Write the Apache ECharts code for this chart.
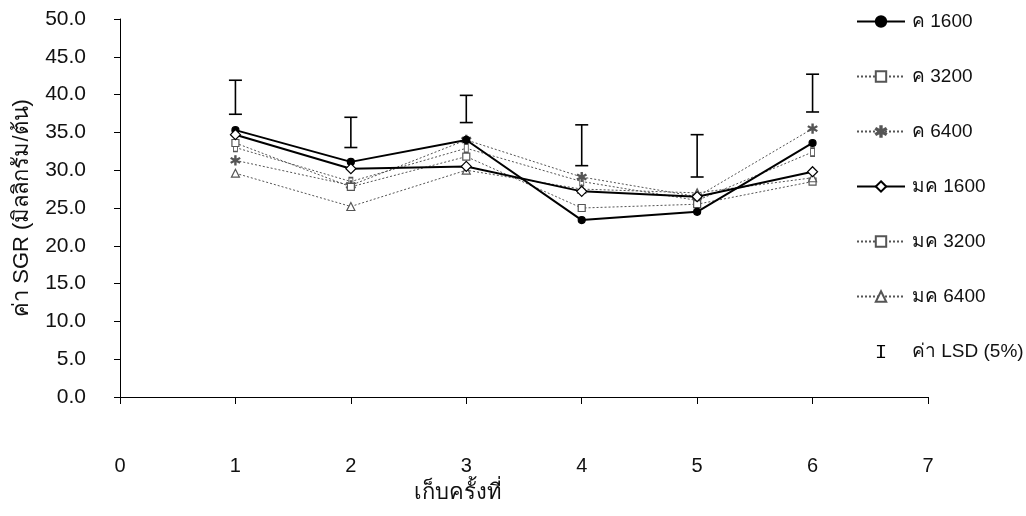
<!DOCTYPE html>
<html>
<head>
<meta charset="utf-8">
<script src="https://cdn.jsdelivr.net/npm/echarts@6/dist/echarts.min.js"></script>
<style>
  html, body { margin: 0; padding: 0; background: #fff; }
  #chart { width: 1026px; height: 516px; }
</style>
</head>
<body>
<div id="chart"></div>
<script>
// Harvest rounds (x values) and SGR readings per treatment
const rounds = [1, 2, 3, 4, 5, 6];
const seriesNames = ['ค 1600', 'ค 3200', 'ค 6400', 'มค 1600', 'มค 3200', 'มค 6400'];
const k1600  = [35.3, 31.1, 34.0, 23.4, 24.5, 33.6];
const k3200  = [33.0, 28.5, 32.9, 28.5, 26.0, 32.4];
const k6400  = [31.3, 28.0, 34.0, 29.1, 26.5, 35.5];
const mk1600 = [34.7, 30.2, 30.5, 27.2, 26.5, 29.8];
const mk3200 = [33.6, 27.8, 31.8, 25.0, 25.5, 28.5];
const mk6400 = [29.6, 25.2, 30.0, 27.5, 27.0, 29.0];
// LSD (5%) bars: low and high end per round
const lsdName = 'ค่า LSD (5%)';
const lsdLow  = [37.4, 33.0, 36.3, 30.6, 29.1, 37.7];
const lsdHigh = [41.9, 37.0, 39.9, 36.0, 34.7, 42.7];
const yTicks = { min: 0, max: 50, interval: 5 };
const xTicks = { min: 0, max: 7, interval: 1 };
const xAxisTitle = 'เก็บครั้งที่';
const yAxisTitle = 'ค่า SGR (มิลลิกรัม/ต้น)';

const FONT = "'Liberation Sans', Arial, 'Noto Sans', sans-serif";
const NARROW = "'Liberation Sans Narrow', 'Arial Narrow', 'Liberation Sans', sans-serif";
const pairs = vals => rounds.map((r, i) => [r, vals[i]]);

const solid = { color: '#000', width: 2, type: 'solid' };
const dotted = { color: '#555', width: 1, type: [2, 2] };
const asterisk = 'path://M-0.6,-5H0.6V-1L4,-3L4.6,-2L1.2,0L4.6,2L4,3L0.6,1V5H-0.6V1L-4,3L-4.6,2L-1.2,0L-4.6,-2L-4,-3L-0.6,-1Z';
const ibeam = 'path://M0,0H10V1.6H6.1V14.4H10V16H0V14.4H3.9V1.6H0Z';

function lineSeries(name, vals, lineStyle, symbol, size, fill, border) {
  return {
    name, type: 'line', data: pairs(vals),
    symbol, symbolSize: size, showSymbol: true,
    lineStyle,
    itemStyle: { color: fill, borderColor: border, borderWidth: 1.2 },
    emphasis: { disabled: true },
    z: lineStyle.width > 1 ? 4 : 3
  };
}

const series = [
  lineSeries(seriesNames[0], k1600, solid, 'circle', 7, '#000', '#000'),
  lineSeries(seriesNames[1], k3200, dotted, 'rect', [4, 8], '#fff', '#555'),
  lineSeries(seriesNames[2], k6400, dotted, asterisk, 9, '#555', '#555'),
  lineSeries(seriesNames[3], mk1600, solid, 'diamond', 10, '#fff', '#000'),
  lineSeries(seriesNames[4], mk3200, dotted, 'rect', 7, '#fff', '#555'),
  lineSeries(seriesNames[5], mk6400, dotted, 'triangle', 8, '#fff', '#555'),
  {
    name: lsdName, type: 'custom',
    data: rounds.map((r, i) => [r, lsdLow[i], lsdHigh[i]]),
    encode: { x: 0, y: [1, 2] },
    itemStyle: { color: '#000' },
    z: 5,
    renderItem: function (params, api) {
      const x = api.value(0);
      const lo = api.coord([x, api.value(1)]);
      const hi = api.coord([x, api.value(2)]);
      const w = 6.5;
      const st = { stroke: '#000', lineWidth: 1.6 };
      return {
        type: 'group',
        children: [
          { type: 'line', shape: { x1: lo[0], y1: lo[1], x2: hi[0], y2: hi[1] }, style: st },
          { type: 'line', shape: { x1: lo[0] - w, y1: lo[1], x2: lo[0] + w, y2: lo[1] }, style: st },
          { type: 'line', shape: { x1: hi[0] - w, y1: hi[1], x2: hi[0] + w, y2: hi[1] }, style: st }
        ]
      };
    }
  }
];

const chart = echarts.init(document.getElementById('chart'), null, { renderer: 'canvas' });
chart.setOption({
  animation: false,
  backgroundColor: '#fff',
  grid: { left: 120, right: 98, top: 19, bottom: 119, containLabel: false },
  legend: {
    orient: 'vertical',
    left: 851, top: 7,
    itemWidth: 48, itemHeight: 13, itemGap: 36,
    textStyle: { fontFamily: FONT, fontSize: 19, color: '#111', padding: [0, 0, 0, 2] },
    data: seriesNames.map(n => ({ name: n })).concat([{ name: lsdName, icon: ibeam, itemStyle: { color: '#000' } }]),
    selectedMode: false
  },
  xAxis: {
    type: 'value', min: xTicks.min, max: xTicks.max, interval: xTicks.interval,
    splitLine: { show: false },
    axisLine: { show: true, onZero: false, lineStyle: { color: '#000', width: 1 } },
    axisTick: { show: true, length: 7, lineStyle: { color: '#000' } },
    axisLabel: { margin: 59, fontFamily: NARROW, fontSize: 20, color: '#111' }
  },
  yAxis: {
    type: 'value', min: yTicks.min, max: yTicks.max, interval: yTicks.interval,
    splitLine: { show: false },
    axisLine: { show: true, lineStyle: { color: '#000', width: 1 } },
    axisTick: { show: true, length: 6, lineStyle: { color: '#000' } },
    axisLabel: { margin: 34, fontFamily: FONT, fontSize: 21, color: '#111', formatter: v => v.toFixed(1) },
    name: yAxisTitle, nameLocation: 'middle', nameGap: 87, nameRotate: 90,
    nameTextStyle: { fontFamily: FONT, fontSize: 22, color: '#111' }
  },
  graphic: [{
    type: 'text', left: 414, top: 482,
    style: { text: xAxisTitle, fontFamily: FONT, fontSize: 22, fill: '#111' }
  }],
  series
});
</script>
</body>
</html>
